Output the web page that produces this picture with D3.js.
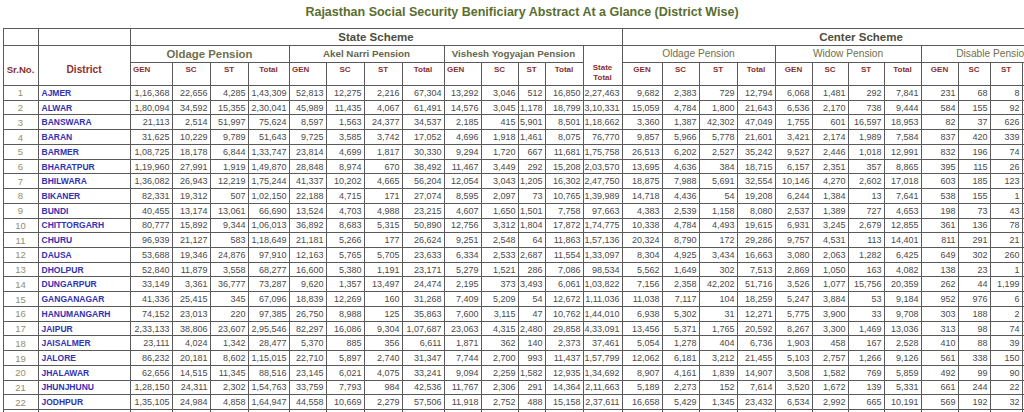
<!DOCTYPE html>
<html>
<head>
<meta charset="utf-8">
<script src="https://cdn.jsdelivr.net/npm/d3@7"></script>
<style>
body { margin: 0; background: #fff; }
svg text { font-family: "Liberation Sans", Arial, sans-serif; }
</style>
</head>
<body>
<div id="main_div"></div>
<script>
var districts = ["AJMER", "ALWAR", "BANSWARA", "BARAN", "BARMER", "BHARATPUR", "BHILWARA", "BIKANER", "BUNDI",
    "CHITTORGARH", "CHURU", "DAUSA", "DHOLPUR", "DUNGARPUR", "GANGANAGAR", "HANUMANGARH", "JAIPUR",
    "JAISALMER", "JALORE", "JHALAWAR", "JHUNJHUNU", "JODHPUR"];

// state scheme: GEN, SC, ST, Total
var oldageState = [
    [116368, 22656, 4285, 143309], [180094, 34592, 15355, 230041], [21113, 2514, 51997, 75624],
    [31625, 10229, 9789, 51643], [108725, 18178, 6844, 133747], [119960, 27991, 1919, 149870],
    [136082, 26943, 12219, 175244], [82331, 19312, 507, 102150], [40455, 13174, 13061, 66690],
    [80777, 15892, 9344, 106013], [96939, 21127, 583, 118649], [53688, 19346, 24876, 97910],
    [52840, 11879, 3558, 68277], [33149, 3361, 36777, 73287], [41336, 25415, 345, 67096],
    [74152, 23013, 220, 97385], [233133, 38806, 23607, 295546], [23111, 4024, 1342, 28477],
    [86232, 20181, 8602, 115015], [62656, 14515, 11345, 88516], [128150, 24311, 2302, 154763],
    [135105, 24984, 4858, 164947]];
var akelNari = [
    [52813, 12275, 2216, 67304], [45989, 11435, 4067, 61491], [8597, 1563, 24377, 34537],
    [9725, 3585, 3742, 17052], [23814, 4699, 1817, 30330], [28848, 8974, 670, 38492],
    [41337, 10202, 4665, 56204], [22188, 4715, 171, 27074], [13524, 4703, 4988, 23215],
    [36892, 8683, 5315, 50890], [21181, 5266, 177, 26624], [12163, 5765, 5705, 23633],
    [16600, 5380, 1191, 23171], [9620, 1357, 13497, 24474], [18839, 12269, 160, 31268],
    [26750, 8988, 125, 35863], [82297, 16086, 9304, 107687], [5370, 885, 356, 6611],
    [22710, 5897, 2740, 31347], [23145, 6021, 4075, 33241], [33759, 7793, 984, 42536],
    [44558, 10669, 2279, 57506]];
var visheshYog = [
    [13292, 3046, 512, 16850], [14576, 3045, 1178, 18799], [2185, 415, 5901, 8501],
    [4696, 1918, 1461, 8075], [9294, 1720, 667, 11681], [11467, 3449, 292, 15208],
    [12054, 3043, 1205, 16302], [8595, 2097, 73, 10765], [4607, 1650, 1501, 7758],
    [12756, 3312, 1804, 17872], [9251, 2548, 64, 11863], [6334, 2533, 2687, 11554],
    [5279, 1521, 286, 7086], [2195, 373, 3493, 6061], [7409, 5209, 54, 12672],
    [7600, 3115, 47, 10762], [23063, 4315, 2480, 29858], [1871, 362, 140, 2373],
    [7744, 2700, 993, 11437], [9094, 2259, 1582, 12935], [11767, 2306, 291, 14364],
    [11918, 2752, 488, 15158]];
var stateTotal = [227463, 310331, 118662, 76770, 175758, 203570, 247750, 139989, 97663, 174775, 157136,
    133097, 98534, 103822, 111036, 144010, 433091, 37461, 157799, 134692, 211663, 237611];

// center scheme
var oldageCenter = [
    [9682, 2383, 729, 12794], [15059, 4784, 1800, 21643], [3360, 1387, 42302, 47049],
    [9857, 5966, 5778, 21601], [26513, 6202, 2527, 35242], [13695, 4636, 384, 18715],
    [18875, 7988, 5691, 32554], [14718, 4436, 54, 19208], [4383, 2539, 1158, 8080],
    [10338, 4784, 4493, 19615], [20324, 8790, 172, 29286], [8304, 4925, 3434, 16663],
    [5562, 1649, 302, 7513], [7156, 2358, 42202, 51716], [11038, 7117, 104, 18259],
    [6938, 5302, 31, 12271], [13456, 5371, 1765, 20592], [5054, 1278, 404, 6736],
    [12062, 6181, 3212, 21455], [8907, 4161, 1839, 14907], [5189, 2273, 152, 7614],
    [16658, 5429, 1345, 23432]];
var widowPension = [
    [6068, 1481, 292, 7841], [6536, 2170, 738, 9444], [1755, 601, 16597, 18953],
    [3421, 2174, 1989, 7584], [9527, 2446, 1018, 12991], [6157, 2351, 357, 8865],
    [10146, 4270, 2602, 17018], [6244, 1384, 13, 7641], [2537, 1389, 727, 4653],
    [6931, 3245, 2679, 12855], [9757, 4531, 113, 14401], [3080, 2063, 1282, 6425],
    [2869, 1050, 163, 4082], [3526, 1077, 15756, 20359], [5247, 3884, 53, 9184],
    [5775, 3900, 33, 9708], [8267, 3300, 1469, 13036], [1903, 458, 167, 2528],
    [5103, 2757, 1266, 9126], [3508, 1582, 769, 5859], [3520, 1672, 139, 5331],
    [6534, 2992, 665, 10191]];
// GEN, SC, ST (total column is cut off in the reference)
var disablePension = [
    [231, 68, 8], [584, 155, 92], [82, 37, 626], [837, 420, 339], [832, 196, 74], [395, 115, 26],
    [603, 185, 123], [538, 155, 1], [198, 73, 43], [361, 136, 78], [811, 291, 21], [649, 302, 260],
    [138, 23, 1], [262, 44, 1199], [952, 976, 6], [303, 188, 2], [313, 98, 74], [410, 88, 39],
    [561, 338, 150], [492, 99, 90], [661, 244, 22], [569, 192, 32]];

var subHeads = ["GEN", "SC", "ST", "Total"];

// layout
var colEdges = [3, 38, 130, 172, 210, 248, 289, 326, 364, 402, 444, 481, 518, 545, 583, 622,
    662, 699, 737, 775, 812, 848, 884, 921, 958, 990, 1022, 1065, 1100];
var headY = [28, 45, 62, 85];
var lineCol = "#5a5a5a";

var x = d3.scaleOrdinal().domain(d3.range(colEdges.length)).range(colEdges);
var y = d3.scaleBand().domain(d3.range(districts.length + 1)).range([85, 85 + 14.73 * (districts.length + 1)]);

function inr(n) {
    var s = String(n);
    if (s.length <= 3) return s;
    var last3 = s.slice(-3), rest = s.slice(0, -3);
    return rest.replace(/\B(?=(\d{2})+(?!\d))/g, ",") + "," + last3;
}

var svg = d3.select("#main_div").append("svg").attr("width", 1024).attr("height", 412);

svg.append("text").attr("x", 522).attr("y", 12).attr("text-anchor", "middle")
    .attr("dominant-baseline", "central").attr("font-size", 12.5).attr("font-weight", "bold")
    .attr("fill", "#5a6e30").text("Rajasthan Social Security Benificiary Abstract At a Glance (District Wise)");

// header cells
var headCells = [
    {c0: 0, c1: 1, r0: 0, r1: 1, t: ""},
    {c0: 1, c1: 2, r0: 0, r1: 1, t: ""},
    {c0: 2, c1: 15, r0: 0, r1: 1, t: "State Scheme", cls: "scheme"},
    {c0: 15, c1: 28, r0: 0, r1: 1, t: "Center Scheme", cls: "scheme"},
    {c0: 0, c1: 1, r0: 1, r1: 3, t: "Sr.No.", cls: "sr"},
    {c0: 1, c1: 2, r0: 1, r1: 3, t: "District", cls: "dist"},
    {c0: 2, c1: 6, r0: 1, r1: 2, t: "Oldage Pension", cls: "big"},
    {c0: 6, c1: 10, r0: 1, r1: 2, t: "Akel Narri Pension", cls: "mid"},
    {c0: 10, c1: 14, r0: 1, r1: 2, t: "Vishesh Yogyajan Pension", cls: "mid"},
    {c0: 14, c1: 15, r0: 1, r1: 3, t: "State Total", cls: "stot"},
    {c0: 15, c1: 19, r0: 1, r1: 2, t: "Oldage Pension", cls: "small"},
    {c0: 19, c1: 23, r0: 1, r1: 2, t: "Widow Pension", cls: "small"},
    {c0: 23, c1: 27, r0: 1, r1: 2, t: "Disable Pension", cls: "small"},
    {c0: 27, c1: 28, r0: 1, r1: 3, t: ""}
];
[2, 6, 10, 15, 19, 23].forEach(function(g, gi) {
    subHeads.forEach(function(h, k) {
        headCells.push({c0: g + k, c1: g + k + 1, r0: 2, r1: 3, t: h, cls: "sub", left: gi < 3 && k == 0});
    });
});

var styles = {
    scheme: {size: 11.5, weight: "bold", fill: "#4d4d3d", dy: 0},
    sr: {size: 9.6, weight: "bold", fill: "#8b2f2f", dy: 4},
    dist: {size: 10.2, weight: "bold", fill: "#8b2f2f", dy: 4},
    big: {size: 11.4, weight: "bold", fill: "#6f6f4c", dy: 0},
    mid: {size: 9.8, weight: "bold", fill: "#66664a", dy: 0},
    small: {size: 10.2, weight: "normal", fill: "#6f6f4c", dy: 0},
    sub: {size: 8, weight: "bold", fill: "#8b2f2f", dy: -4},
    stot: {size: 8, weight: "bold", fill: "#8b2f2f", dy: 2}
};

var hg = svg.append("g").attr("class", "head");
hg.selectAll("rect").data(headCells).enter().append("rect")
    .attr("x", function(d) { return x(d.c0) + 0.5; })
    .attr("y", function(d) { return headY[d.r0] + 0.5; })
    .attr("width", function(d) { return x(d.c1) - x(d.c0); })
    .attr("height", function(d) { return headY[d.r1] - headY[d.r0]; })
    .attr("fill", "none").attr("stroke", lineCol).attr("shape-rendering", "crispEdges");

var ht = hg.selectAll("text").data(headCells.filter(function(d) { return d.t; })).enter().append("text")
    .attr("x", function(d) { return d.left ? x(d.c0) + 3 : (x(d.c0) + x(d.c1)) / 2; })
    .attr("y", function(d) { return (headY[d.r0] + headY[d.r1]) / 2 + styles[d.cls].dy; })
    .attr("text-anchor", function(d) { return d.left ? "start" : "middle"; })
    .attr("dominant-baseline", "central")
    .attr("font-size", function(d) { return styles[d.cls].size; })
    .attr("font-weight", function(d) { return styles[d.cls].weight; })
    .attr("fill", function(d) { return styles[d.cls].fill; });
ht.each(function(d) {
    var el = d3.select(this);
    if (d.cls == "stot") {
        // two-line label
        d.t.split(" ").forEach(function(p, i) {
            el.append("tspan").attr("x", (x(d.c0) + x(d.c1)) / 2)
                .attr("y", 67 + i * 9.5).text(p);
        });
    } else {
        el.text(d.t);
    }
});

// body rows
var rows = districts.map(function(name, i) {
    return {i: i, name: name,
        vals: oldageState[i].concat(akelNari[i], visheshYog[i], [stateTotal[i]],
            oldageCenter[i], widowPension[i], disablePension[i])};
});

var bodyCols = d3.range(colEdges.length - 1);
var grid = svg.append("g").attr("class", "grid");
d3.range(districts.length + 1).forEach(function(r) {
    grid.selectAll(null).data(bodyCols).enter().append("rect")
        .attr("x", function(c) { return x(c) + 0.5; })
        .attr("y", y(r) + 0.5)
        .attr("width", function(c) { return x(c + 1) - x(c); })
        .attr("height", y.bandwidth())
        .attr("fill", "none").attr("stroke", lineCol).attr("shape-rendering", "crispEdges");
});

var rg = svg.selectAll("g.row").data(rows).enter().append("g").attr("class", "row")
    .attr("transform", function(d) { return "translate(0," + (y(d.i) + y.bandwidth() / 2 + 0.5) + ")"; });

rg.append("text").attr("x", (x(0) + x(1)) / 2).attr("text-anchor", "middle")
    .attr("dominant-baseline", "central").attr("font-size", 9.5).attr("fill", "#8f8f6c")
    .text(function(d) { return d.i + 1; });
rg.append("text").attr("x", x(1) + 3.5).attr("dominant-baseline", "central")
    .attr("font-size", 8.5).attr("font-weight", "bold").attr("fill", "#3232b2")
    .text(function(d) { return d.name; });
rg.selectAll("text.num").data(function(d) { return d.vals; }).enter().append("text")
    .attr("class", "num")
    .attr("x", function(v, k) { return x(k + 3) - 2.5; })
    .attr("text-anchor", "end").attr("dominant-baseline", "central")
    .attr("font-size", 9).attr("fill", "#4a4a4a")
    .text(function(v) { return inr(v); });
</script>
</body>
</html>
